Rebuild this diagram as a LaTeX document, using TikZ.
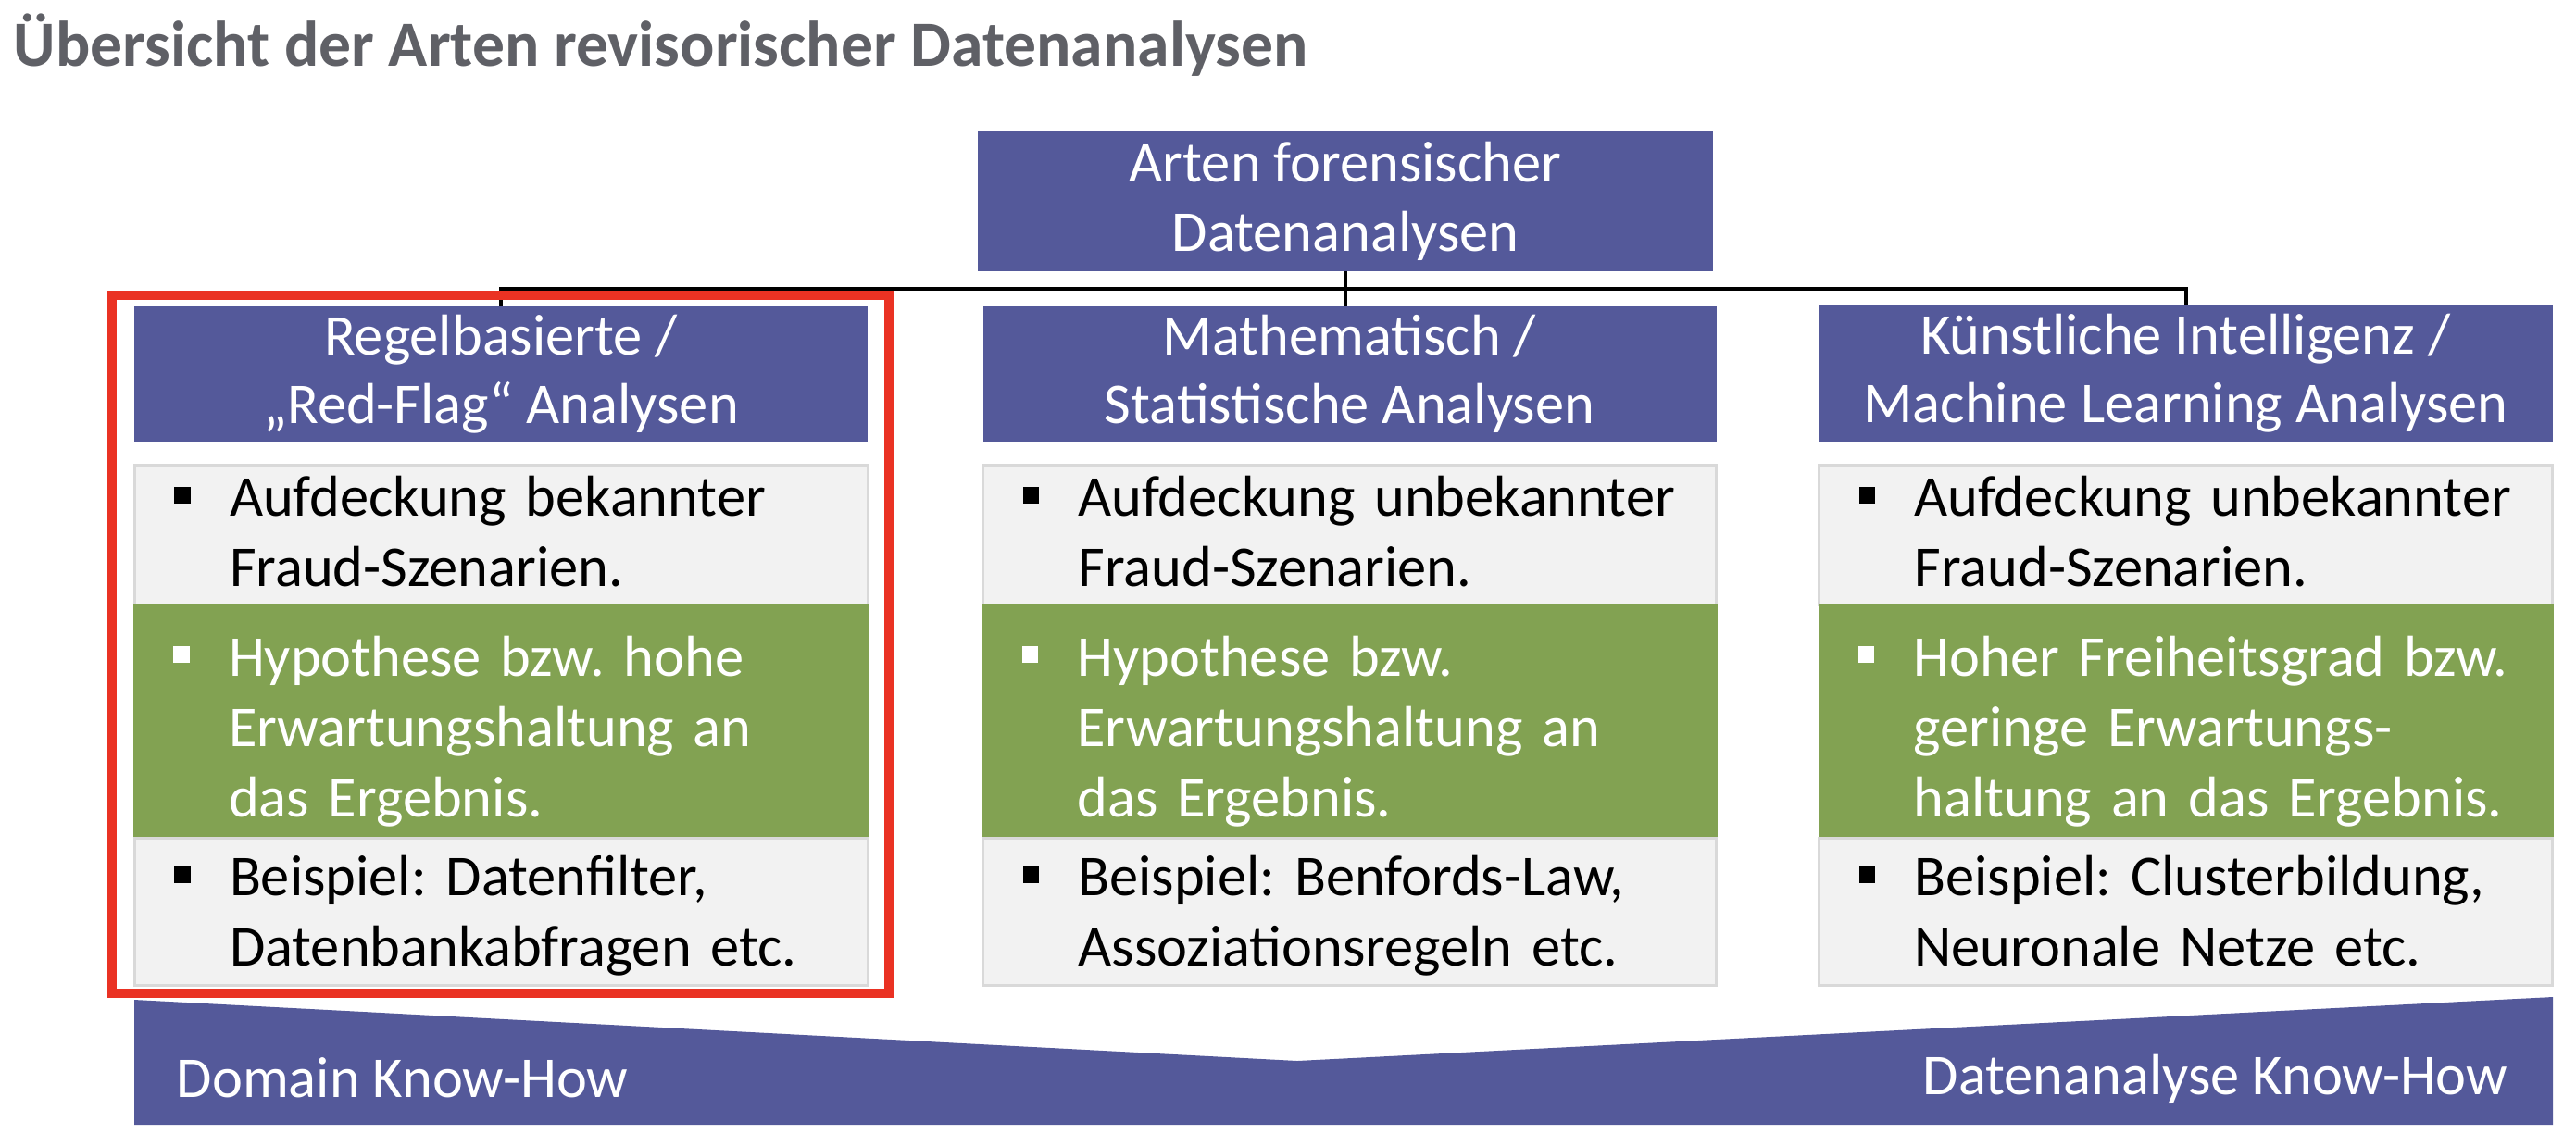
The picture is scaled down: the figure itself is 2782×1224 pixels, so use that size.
\documentclass[tikz,border=0pt]{standalone}
\usepackage{fontspec}
\setmainfont{Carlito}
\definecolor{purp}{RGB}{84,89,154}
\definecolor{grn}{RGB}{130,162,82}
\definecolor{lgray}{RGB}{242,242,242}
\definecolor{bgray}{RGB}{217,217,217}
\definecolor{redf}{RGB}{234,50,35}
\definecolor{ttl}{RGB}{95,96,102}
% bullet with a strut of given height on the first line
\newcommand{\bsq}[1]{\makebox[25.75pt][l]{\hspace{10.8pt}\rule[3.5pt]{4.4pt}{4.4pt}}\rule{0pt}{#1}}
\newcommand{\bind}{\hspace*{25.75pt}}
\newcommand{\lastd}{\rule[-3.2pt]{0pt}{3.2pt}}
\begin{document}
\frenchspacing
\begin{tikzpicture}[x=0.25pt,y=-0.25pt,
  txt/.style={font=\fontsize{15.6}{19}\selectfont\frenchspacing},
  hdr/.style={fill=purp, text=white, inner sep=0pt, outer sep=0pt, minimum width=198pt, minimum height=36.75pt, align=center, font=\fontsize{15.6}{18.6}\selectfont},
  graybox/.style={txt, fill=lgray, draw=bgray, line width=0.75pt, inner sep=0pt, outer sep=0pt, text width=198pt, align=left, minimum height=#1},
  greenbox/.style={txt, fill=grn, text=white, inner sep=0pt, outer sep=0pt, text width=198.5pt, align=left, minimum height=#1},
  conn/.style={line width=1pt, black},
  bandtext/.style={txt, text=white, inner sep=0pt}
]
\useasboundingbox (0,0) rectangle (2782,1224);
% title
\node[anchor=base west, inner sep=0pt, text=ttl, font=\fontsize{17.4}{20}\selectfont\bfseries] (title) at (14,71) {Übersicht der Arten revisorischer Datenanalysen};
% top box
\node[hdr, minimum width=198.5pt, minimum height=37.75pt] (top) at (1453,217.5) {Arten forensischer\\Datenanalysen};
% headers
\node[hdr] (h1) at (541,404) {Regelbasierte /\\„Red-Flag“ Analysen};
\node[hdr] (h2) at (1457.5,404) {Mathematisch /\\Statistische Analysen};
\node[hdr] (h3) at (2360.5,403) {Künstliche Intelligenz /\\Machine Learning Analysen};
\coordinate (bus) at (0,312);
\draw[conn] (top.south) -- (top.south |- h2.north);
\draw[conn] (h1.north) -- (h1.north |- bus) -- (h3.north |- bus) -- (h3.north);
% column 1
\node[graybox=37.75pt] (a1) at (541,577.5) {\bsq{12.4pt}Aufdeckung bekannter\\\bind Fraud-Szenarien.\lastd};
\node[greenbox=63pt] (b1) at (541,779) {\bsq{16.7pt}Hypothese bzw. hohe\\\bind Erwartungshaltung an\\\bind das Ergebnis.\lastd};
\node[graybox=39.75pt] (c1) at (541,984.5) {\bsq{13.7pt}Beispiel: Datenfilter,\\\bind Datenbankabfragen etc.\lastd};
% column 2
\node[graybox=37.75pt] (a2) at (1457.5,577.5) {\bsq{12.4pt}Aufdeckung unbekannter\\\bind Fraud-Szenarien.\lastd};
\node[greenbox=63pt] (b2) at (1457.5,779) {\bsq{16.7pt}Hypothese bzw.\\\bind Erwartungshaltung an\\\bind das Ergebnis.\lastd};
\node[graybox=39.75pt] (c2) at (1457.5,984.5) {\bsq{13.7pt}Beispiel: Benfords-Law,\\\bind Assoziationsregeln etc.\lastd};
% column 3
\node[graybox=37.75pt] (a3) at (2360.5,577.5) {\bsq{12.4pt}Aufdeckung unbekannter\\\bind Fraud-Szenarien.\lastd};
\node[greenbox=63pt] (b3) at (2360.5,779) {\bsq{16.7pt}Hoher Freiheitsgrad bzw.\\\bind geringe Erwartungs-\\\bind haltung an das Ergebnis.\lastd};
\node[graybox=39.75pt] (c3) at (2360.5,984.5) {\bsq{13.7pt}Beispiel: Clusterbildung,\\\bind Neuronale Netze etc.\lastd};
% highlight frame
\draw[redf, line width=2.5pt] (121,319) rectangle (960,1073);
% bottom band
\fill[purp] (145,1080) -- (1401,1146) -- (2757,1077) -- (2757,1215) -- (145,1215) -- cycle;
\node[bandtext, anchor=base west] (dk) at (190,1185) {Domain Know-How};
\node[bandtext, anchor=base east] (ak) at (2709,1182) {Datenanalyse Know-How};
\end{tikzpicture}
\end{document}
